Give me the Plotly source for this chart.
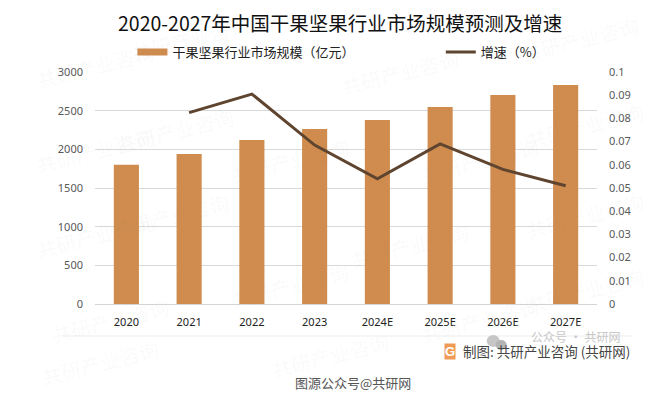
import plotly.graph_objects as go

categories = ["2020", "2021", "2022", "2023", "2024E", "2025E", "2026E", "2027E"]
market_size = [1800, 1940, 2120, 2263, 2380, 2547, 2703, 2832]
growth = [None, 0.0825, 0.0905, 0.0685, 0.054, 0.069, 0.058, 0.051]
left_ticks = [0, 500, 1000, 1500, 2000, 2500, 3000]
right_ticks = [0, 0.01, 0.02, 0.03, 0.04, 0.05, 0.06, 0.07, 0.08, 0.09, 0.1]
title_text = "2020-2027年中国干果坚果行业市场规模预测及增速"
series_names = ["干果坚果行业市场规模（亿元）", "增速（%）"]
credit_text = "制图: 共研产业咨询 (共研网)"
source_text = "图源公众号@共研网"
wechat_text = "公众号 · 共研网"
watermark_text = "共研产业咨询"
watermark_spots = [(190, 38), (95, 65), (400, 72), (580, 40), (175, 130), (585, 125), (95, 150),
                   (290, 160), (480, 160), (170, 215), (585, 215), (410, 245), (95, 235),
                   (290, 285), (585, 290), (480, 320), (110, 320), (330, 355), (100, 362)]

W, H = 655, 395
L, R, T, B = 94.5, 597.5, 72, 304
CJK = "Noto Sans CJK SC, Noto Sans, sans-serif"
BAR = "#CF8C4E"
LINE = "#5F452F"


def px(x):
    return (x - L) / (R - L)


def py(y):
    return (B - y) / (B - T)


def note(text, x, y, xanchor="center", **kw):
    return dict(text=text, x=px(x), y=py(y), xref="paper", yref="paper", showarrow=False,
                xanchor=xanchor, yanchor="middle", **kw)


fig = go.Figure()
fig.add_trace(go.Bar(x=categories, y=market_size, marker_color=BAR, marker_line_width=0,
                     width=0.4, name=series_names[0], showlegend=False, yaxis="y"))
fig.add_trace(go.Scatter(x=[None], y=[None], mode="lines", line=dict(color=BAR, width=7),
                         name=series_names[0], yaxis="y", legend="legend"))
fig.add_trace(go.Scatter(x=categories, y=growth, mode="lines", line=dict(color=LINE, width=3),
                         name=series_names[1], yaxis="y2", connectgaps=False, legend="legend2"))

annotations = [note(watermark_text, wx, wy, textangle=-14,
                    font=dict(family=CJK, size=20, color="rgba(120,120,120,0.045)"))
               for wx, wy in watermark_spots]
annotations += [
    note(title_text, 340, 22, font=dict(family=CJK, size=19.5, color="#111111")),
    note(wechat_text, 576, 336, font=dict(family=CJK, size=12, color="#C8C8C8")),
    note(credit_text, 633, 351, xanchor="right", font=dict(family=CJK, size=13.5, color="#444444")),
    note("<b>G</b>", 450, 351, font=dict(family="Liberation Sans", size=13, color="#FFFFFF"),
         bgcolor="#F09A55", borderpad=0),
    note(source_text, 353, 382, font=dict(family=CJK, size=13, color="#555555")),
]

legend_common = dict(orientation="h", yanchor="middle", xanchor="left", itemwidth=30,
                     font=dict(family=CJK, size=13, color="#222222"), bgcolor="rgba(0,0,0,0)")

fig.update_layout(
    width=W, height=H,
    margin=dict(l=L, r=W - R, t=T, b=H - B, pad=0),
    paper_bgcolor="white", plot_bgcolor="white",
    showlegend=True,
    legend=dict(x=px(132), y=py(52), **legend_common),
    legend2=dict(x=px(441), y=py(52), **legend_common),
    annotations=annotations,
    shapes=[
        dict(type="line", xref="paper", yref="paper", x0=px(62), x1=px(632), y0=py(336), y1=py(336),
             line=dict(color="#EDEDED", width=1), layer="below"),
        dict(type="circle", xref="paper", yref="paper", x0=px(487), x1=px(500), y0=py(347), y1=py(335),
             fillcolor="#C6C6C6", line=dict(width=0, color="#C6C6C6"), layer="above", opacity=1),
        dict(type="circle", xref="paper", yref="paper", x0=px(496), x1=px(507), y0=py(350), y1=py(340),
             fillcolor="#B4B4B4", line=dict(width=0, color="#B4B4B4"), layer="above", opacity=1),
    ],
    xaxis=dict(type="category", categoryorder="array", categoryarray=categories,
               range=[-0.5, 7.5], showgrid=False, showline=True, linecolor="#D4D4D4", linewidth=1,
               ticks="", ticklabelstandoff=8, tickfont=dict(family="Noto Sans", size=11, color="#222222")),
    yaxis=dict(range=[0, 3000], tickvals=left_ticks, showgrid=True, gridcolor="#D9D9D9", gridwidth=1,
               zeroline=False, ticks="", ticklabelstandoff=11,
               tickfont=dict(family="Noto Sans", size=11, color="#595959")),
    yaxis2=dict(range=[0, 0.1], overlaying="y", side="right", tickvals=right_ticks,
                ticktext=[f"{v:g}" for v in right_ticks], showgrid=False, zeroline=False, ticks="",
                ticklabelstandoff=11, tickfont=dict(family="Noto Sans", size=11, color="#595959")),
)

fig.write_html("out.html", config={"displayModeBar": False},
               post_script="document.body.style.margin='0';window.dispatchEvent(new Event('resize'));")
